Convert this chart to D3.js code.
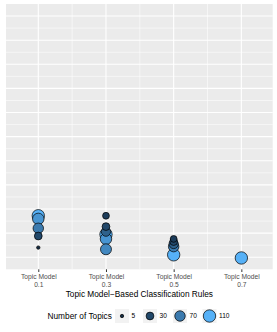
<!DOCTYPE html>
<html><head><meta charset="utf-8">
<script src="https://cdn.jsdelivr.net/npm/d3@7"></script>
<style>body{margin:0;background:#fff}svg{display:block;font-family:"Liberation Sans",Arial,sans-serif}</style>
</head><body><svg id="c" width="277" height="332"></svg>
<script>
// data
const rules = [0.1, 0.1, 0.1, 0.1, 0.1, 0.3, 0.3, 0.3, 0.3, 0.3, 0.3, 0.5, 0.5, 0.5, 0.5, 0.5, 0.7];
const values = [1.72, 1.59, 1.20, 0.88, 0.40, 1.72, 1.27, 1.06, 0.95, 0.76, 0.33, 0.76, 0.65, 0.55, 0.44, 0.10, -0.03];
const topics = [110, 90, 70, 30, 5, 20, 30, 50, 110, 90, 80, 20, 30, 50, 70, 110, 110];
const xTicks = [0.1, 0.3, 0.5, 0.7];
const xTickLabels = ["Topic Model\n0.1", "Topic Model\n0.3", "Topic Model\n0.5", "Topic Model\n0.7"];
const xMinor = [0.2, 0.4, 0.6];
const legendBreaks = [5, 30, 70, 110];
const xTitle = "Topic Model\u2212Based Classification Rules";
const legendTitle = "Number of Topics";

const svg = d3.select("#c");
const P = {l: 6, r: 272.7, t: 4, b: 269.3};
const x = d3.scaleLinear().domain([0.0046, 0.7926]).range([P.l, P.r]);
const y = d3.scaleLinear().domain([-0.5, 10.5]).range([P.b, P.t]);
const tmin = d3.min(topics), tmax = d3.max(topics);
const r = d3.scaleSqrt().domain([0, tmax - tmin]).range([1.7, 6.2]);
const rad = v => r(v - tmin);
const col = d3.scaleLinear().domain([tmin, tmax]).range(["#132B43", "#56B1F7"]).interpolate(d3.interpolateLab);

svg.append("rect").attr("x", P.l).attr("y", P.t).attr("width", P.r - P.l).attr("height", P.b - P.t).attr("fill", "#EBEBEB");

const yMaj = d3.range(0, 11), yMin = d3.range(0.5, 10, 1);
const g = svg.append("g");
yMin.forEach(v => g.append("line").attr("x1", P.l).attr("x2", P.r).attr("y1", y(v)).attr("y2", y(v)).attr("stroke", "#fff").attr("stroke-width", 0.55));
xMinor.forEach(v => g.append("line").attr("y1", P.t).attr("y2", P.b).attr("x1", x(v)).attr("x2", x(v)).attr("stroke", "#fff").attr("stroke-width", 0.55));
yMaj.forEach(v => g.append("line").attr("x1", P.l).attr("x2", P.r).attr("y1", y(v)).attr("y2", y(v)).attr("stroke", "#fff").attr("stroke-width", 1.1));
xTicks.forEach(v => g.append("line").attr("y1", P.t).attr("y2", P.b).attr("x1", x(v)).attr("x2", x(v)).attr("stroke", "#fff").attr("stroke-width", 1.1));

// x axis
const ax = svg.append("g").attr("transform", `translate(0,${P.b})`)
  .call(d3.axisBottom(x).tickValues(xTicks).tickSize(2.7).tickFormat(() => ""));
ax.select(".domain").remove();
ax.selectAll(".tick line").attr("stroke", "#333").attr("stroke-width", 1);
ax.selectAll(".tick").each(function(d, i) {
  const t = d3.select(this).append("text").attr("fill", "#4D4D4D").attr("font-size", "6.7px").attr("text-anchor", "middle");
  xTickLabels[i].split("\n").forEach((s, j) => t.append("tspan").attr("x", 0).attr("y", 9.8 + j * 7.6).text(s));
});
svg.append("text").attr("x", (P.l + P.r) / 2).attr("y", 297).attr("text-anchor", "middle").attr("font-size", "8.3px").attr("fill", "#000").text(xTitle);

// points
const idx = d3.range(values.length).sort((a, b) => topics[b] - topics[a]);
svg.append("g").selectAll("circle").data(idx).join("circle")
  .attr("cx", i => x(rules[i])).attr("cy", i => y(values[i])).attr("r", i => rad(topics[i]))
  .attr("fill", i => col(topics[i])).attr("stroke", "#000").attr("stroke-width", 0.7);

// legend
const lg = svg.append("g");
lg.append("text").attr("x", 47.5).attr("y", 319).attr("font-size", "8.3px").attr("fill", "#000").text(legendTitle);
const keyX = [122, 150, 180, 209.5];
legendBreaks.forEach((b, i) => {
  lg.append("rect").attr("x", keyX[i] - 7).attr("y", 309).attr("width", 14).attr("height", 14).attr("fill", "#F2F2F2");
  lg.append("circle").attr("cx", keyX[i]).attr("cy", 316).attr("r", rad(b)).attr("fill", col(b)).attr("stroke", "#000").attr("stroke-width", 0.7);
  lg.append("text").attr("x", keyX[i] + 9.5).attr("y", 318.3).attr("font-size", "6.6px").attr("fill", "#000").text(b);
});
</script></body></html>
